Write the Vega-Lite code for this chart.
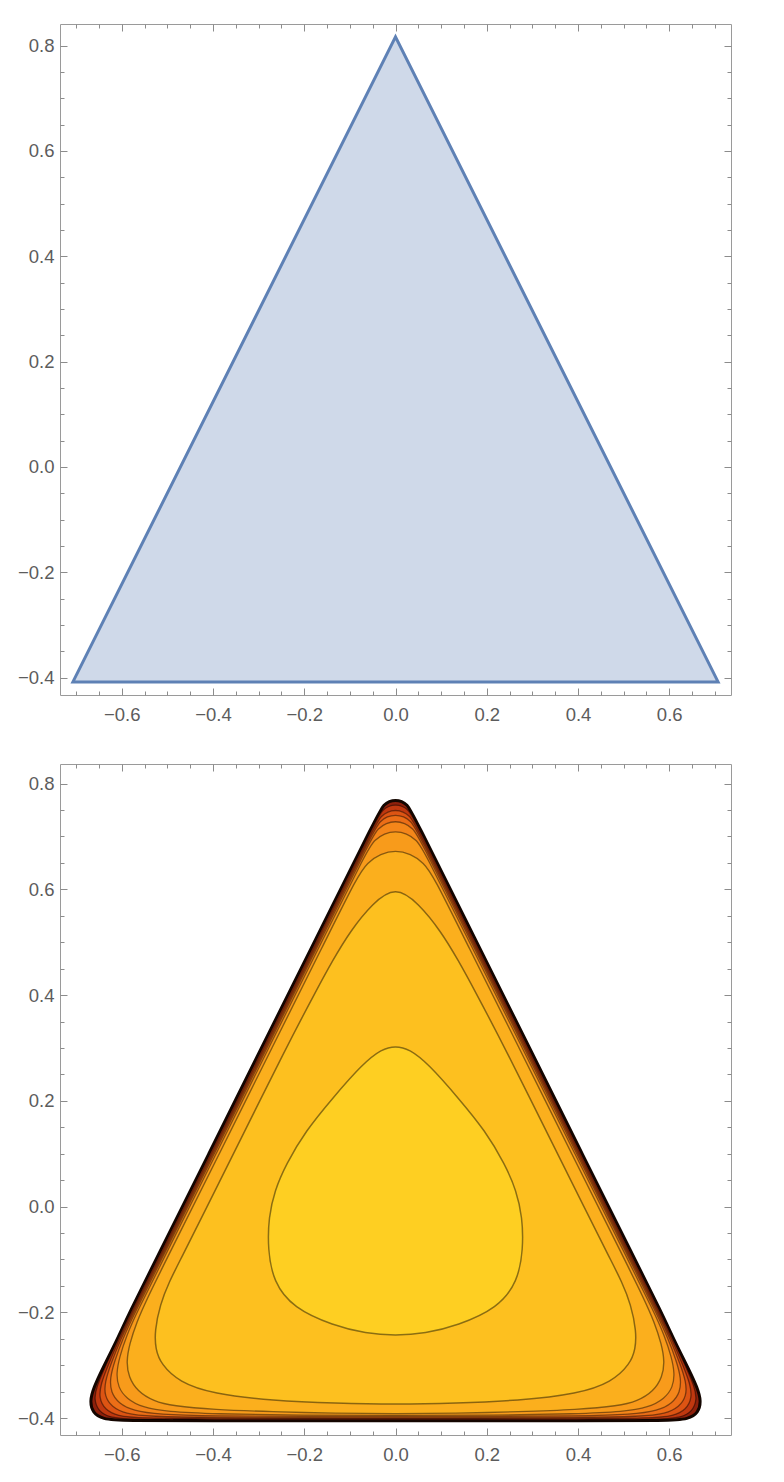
{
  "$schema": "https://vega.github.io/schema/vega-lite/v6.json",
  "background": "white",
  "padding": {"left": 16, "top": 23, "right": 5, "bottom": 5},
  "bounds": "flush",
  "spacing": 69,
  "config": {
    "view": {"stroke": "#9a9a9a", "strokeWidth": 1},
    "axis": {"grid": false, "domain": false, "title": null, "labelFont": "Liberation Sans", "labelFontSize": 18.5, "labelColor": "#5c5c5c", "tickColor": "#8c8c8c", "tickWidth": 1, "zindex": 1}
  },
  "datasets": {
    "tri": [
      {"x": -0.7071, "y": -0.4082},
      {"x": 0.7071, "y": -0.4082},
      {"x": 0, "y": 0.8165}
    ],
    "cont": [
      {"c":"E","x":0,"y":0.769},{"c":"E","x":-0.0137,"y":0.7666},{"c":"E","x":-0.0257,"y":0.7596},{"c":"E","x":-0.0346,"y":0.749},{"c":"E","x":-0.178,"y":0.5},{"c":"E","x":-0.294,"y":0.3},{"c":"E","x":-0.409,"y":0.1},{"c":"E","x":-0.525,"y":-0.1},{"c":"E","x":-0.583,"y":-0.2},{"c":"E","x":-0.612,"y":-0.255},{"c":"E","x":-0.642,"y":-0.306},{"c":"E","x":-0.662,"y":-0.343},{"c":"E","x":-0.67,"y":-0.368},{"c":"E","x":-0.664,"y":-0.39},{"c":"E","x":-0.642,"y":-0.402},{"c":"E","x":-0.6,"y":-0.405},{"c":"E","x":-0.4,"y":-0.405},{"c":"E","x":-0.2,"y":-0.405},{"c":"E","x":0,"y":-0.405},
      {"c":"E","x":0.2,"y":-0.405},{"c":"E","x":0.4,"y":-0.405},{"c":"E","x":0.6,"y":-0.405},{"c":"E","x":0.642,"y":-0.402},{"c":"E","x":0.664,"y":-0.39},{"c":"E","x":0.67,"y":-0.368},{"c":"E","x":0.662,"y":-0.343},{"c":"E","x":0.642,"y":-0.306},{"c":"E","x":0.612,"y":-0.255},{"c":"E","x":0.583,"y":-0.2},{"c":"E","x":0.525,"y":-0.1},{"c":"E","x":0.409,"y":0.1},{"c":"E","x":0.294,"y":0.3},{"c":"E","x":0.178,"y":0.5},{"c":"E","x":0.0346,"y":0.749},{"c":"E","x":0.0257,"y":0.7596},{"c":"E","x":0.0137,"y":0.7666},

      {"c":"C8","x":0,"y":0.76},{"c":"C8","x":-0.015,"y":0.7575},{"c":"C8","x":-0.0283,"y":0.7499},{"c":"C8","x":-0.0381,"y":0.7379},{"c":"C8","x":-0.175,"y":0.5},{"c":"C8","x":-0.291,"y":0.3},{"c":"C8","x":-0.406,"y":0.1},{"c":"C8","x":-0.522,"y":-0.1},{"c":"C8","x":-0.58,"y":-0.2},{"c":"C8","x":-0.61,"y":-0.255},{"c":"C8","x":-0.637,"y":-0.304},{"c":"C8","x":-0.655,"y":-0.34},{"c":"C8","x":-0.661,"y":-0.365},{"c":"C8","x":-0.651,"y":-0.387},{"c":"C8","x":-0.627,"y":-0.399},{"c":"C8","x":-0.58,"y":-0.4025},{"c":"C8","x":-0.4,"y":-0.4025},{"c":"C8","x":-0.2,"y":-0.4025},{"c":"C8","x":0,"y":-0.4025},
      {"c":"C8","x":0.2,"y":-0.4025},{"c":"C8","x":0.4,"y":-0.4025},{"c":"C8","x":0.58,"y":-0.4025},{"c":"C8","x":0.627,"y":-0.399},{"c":"C8","x":0.651,"y":-0.387},{"c":"C8","x":0.661,"y":-0.365},{"c":"C8","x":0.655,"y":-0.34},{"c":"C8","x":0.637,"y":-0.304},{"c":"C8","x":0.61,"y":-0.255},{"c":"C8","x":0.58,"y":-0.2},{"c":"C8","x":0.522,"y":-0.1},{"c":"C8","x":0.406,"y":0.1},{"c":"C8","x":0.291,"y":0.3},{"c":"C8","x":0.175,"y":0.5},{"c":"C8","x":0.0381,"y":0.7379},{"c":"C8","x":0.0283,"y":0.7499},{"c":"C8","x":0.015,"y":0.7575},

      {"c":"C7","x":0,"y":0.75},{"c":"C7","x":-0.0167,"y":0.7471},{"c":"C7","x":-0.0313,"y":0.7386},{"c":"C7","x":-0.0422,"y":0.7257},{"c":"C7","x":-0.172,"y":0.5},{"c":"C7","x":-0.288,"y":0.3},{"c":"C7","x":-0.403,"y":0.1},{"c":"C7","x":-0.519,"y":-0.1},{"c":"C7","x":-0.577,"y":-0.2},{"c":"C7","x":-0.607,"y":-0.254},{"c":"C7","x":-0.631,"y":-0.302},{"c":"C7","x":-0.646,"y":-0.336},{"c":"C7","x":-0.65,"y":-0.362},{"c":"C7","x":-0.637,"y":-0.384},{"c":"C7","x":-0.61,"y":-0.396},{"c":"C7","x":-0.56,"y":-0.4},{"c":"C7","x":-0.4,"y":-0.401},{"c":"C7","x":-0.2,"y":-0.401},{"c":"C7","x":0,"y":-0.401},
      {"c":"C7","x":0.2,"y":-0.401},{"c":"C7","x":0.4,"y":-0.401},{"c":"C7","x":0.56,"y":-0.4},{"c":"C7","x":0.61,"y":-0.396},{"c":"C7","x":0.637,"y":-0.384},{"c":"C7","x":0.65,"y":-0.362},{"c":"C7","x":0.646,"y":-0.336},{"c":"C7","x":0.631,"y":-0.302},{"c":"C7","x":0.607,"y":-0.254},{"c":"C7","x":0.577,"y":-0.2},{"c":"C7","x":0.519,"y":-0.1},{"c":"C7","x":0.403,"y":0.1},{"c":"C7","x":0.288,"y":0.3},{"c":"C7","x":0.172,"y":0.5},{"c":"C7","x":0.0422,"y":0.7257},{"c":"C7","x":0.0313,"y":0.7386},{"c":"C7","x":0.0167,"y":0.7471},

      {"c":"C6","x":0,"y":0.741},{"c":"C6","x":-0.018,"y":0.7378},{"c":"C6","x":-0.0338,"y":0.7287},{"c":"C6","x":-0.0455,"y":0.7148},{"c":"C6","x":-0.169,"y":0.5},{"c":"C6","x":-0.285,"y":0.3},{"c":"C6","x":-0.4,"y":0.1},{"c":"C6","x":-0.516,"y":-0.1},{"c":"C6","x":-0.574,"y":-0.2},{"c":"C6","x":-0.603,"y":-0.252},{"c":"C6","x":-0.624,"y":-0.298},{"c":"C6","x":-0.637,"y":-0.332},{"c":"C6","x":-0.638,"y":-0.358},{"c":"C6","x":-0.622,"y":-0.379},{"c":"C6","x":-0.592,"y":-0.392},{"c":"C6","x":-0.54,"y":-0.397},{"c":"C6","x":-0.4,"y":-0.399},{"c":"C6","x":-0.2,"y":-0.3995},{"c":"C6","x":0,"y":-0.3995},
      {"c":"C6","x":0.2,"y":-0.3995},{"c":"C6","x":0.4,"y":-0.399},{"c":"C6","x":0.54,"y":-0.397},{"c":"C6","x":0.592,"y":-0.392},{"c":"C6","x":0.622,"y":-0.379},{"c":"C6","x":0.638,"y":-0.358},{"c":"C6","x":0.637,"y":-0.332},{"c":"C6","x":0.624,"y":-0.298},{"c":"C6","x":0.603,"y":-0.252},{"c":"C6","x":0.574,"y":-0.2},{"c":"C6","x":0.516,"y":-0.1},{"c":"C6","x":0.4,"y":0.1},{"c":"C6","x":0.285,"y":0.3},{"c":"C6","x":0.169,"y":0.5},{"c":"C6","x":0.0455,"y":0.7148},{"c":"C6","x":0.0338,"y":0.7287},{"c":"C6","x":0.018,"y":0.7378},

      {"c":"C5","x":0,"y":0.729},{"c":"C5","x":-0.0203,"y":0.7254},{"c":"C5","x":-0.0381,"y":0.7151},{"c":"C5","x":-0.0514,"y":0.6994},{"c":"C5","x":-0.166,"y":0.5},{"c":"C5","x":-0.282,"y":0.3},{"c":"C5","x":-0.397,"y":0.1},{"c":"C5","x":-0.513,"y":-0.1},{"c":"C5","x":-0.571,"y":-0.2},{"c":"C5","x":-0.598,"y":-0.25},{"c":"C5","x":-0.616,"y":-0.293},{"c":"C5","x":-0.626,"y":-0.325},{"c":"C5","x":-0.624,"y":-0.351},{"c":"C5","x":-0.607,"y":-0.372},{"c":"C5","x":-0.575,"y":-0.386},{"c":"C5","x":-0.52,"y":-0.393},{"c":"C5","x":-0.4,"y":-0.396},{"c":"C5","x":-0.2,"y":-0.397},{"c":"C5","x":0,"y":-0.397},
      {"c":"C5","x":0.2,"y":-0.397},{"c":"C5","x":0.4,"y":-0.396},{"c":"C5","x":0.52,"y":-0.393},{"c":"C5","x":0.575,"y":-0.386},{"c":"C5","x":0.607,"y":-0.372},{"c":"C5","x":0.624,"y":-0.351},{"c":"C5","x":0.626,"y":-0.325},{"c":"C5","x":0.616,"y":-0.293},{"c":"C5","x":0.598,"y":-0.25},{"c":"C5","x":0.571,"y":-0.2},{"c":"C5","x":0.513,"y":-0.1},{"c":"C5","x":0.397,"y":0.1},{"c":"C5","x":0.282,"y":0.3},{"c":"C5","x":0.166,"y":0.5},{"c":"C5","x":0.0514,"y":0.6994},{"c":"C5","x":0.0381,"y":0.7151},{"c":"C5","x":0.0203,"y":0.7254},

      {"c":"C4","x":0,"y":0.71},{"c":"C4","x":-0.0244,"y":0.7057},{"c":"C4","x":-0.0459,"y":0.6933},{"c":"C4","x":-0.0618,"y":0.6743},{"c":"C4","x":-0.162,"y":0.5},{"c":"C4","x":-0.278,"y":0.3},{"c":"C4","x":-0.393,"y":0.1},{"c":"C4","x":-0.509,"y":-0.1},{"c":"C4","x":-0.567,"y":-0.2},{"c":"C4","x":-0.59,"y":-0.245},{"c":"C4","x":-0.605,"y":-0.285},{"c":"C4","x":-0.612,"y":-0.315},{"c":"C4","x":-0.608,"y":-0.342},{"c":"C4","x":-0.59,"y":-0.363},{"c":"C4","x":-0.555,"y":-0.38},{"c":"C4","x":-0.5,"y":-0.388},{"c":"C4","x":-0.4,"y":-0.392},{"c":"C4","x":-0.2,"y":-0.395},{"c":"C4","x":0,"y":-0.395},
      {"c":"C4","x":0.2,"y":-0.395},{"c":"C4","x":0.4,"y":-0.392},{"c":"C4","x":0.5,"y":-0.388},{"c":"C4","x":0.555,"y":-0.38},{"c":"C4","x":0.59,"y":-0.363},{"c":"C4","x":0.608,"y":-0.342},{"c":"C4","x":0.612,"y":-0.315},{"c":"C4","x":0.605,"y":-0.285},{"c":"C4","x":0.59,"y":-0.245},{"c":"C4","x":0.567,"y":-0.2},{"c":"C4","x":0.509,"y":-0.1},{"c":"C4","x":0.393,"y":0.1},{"c":"C4","x":0.278,"y":0.3},{"c":"C4","x":0.162,"y":0.5},{"c":"C4","x":0.0618,"y":0.6743},{"c":"C4","x":0.0459,"y":0.6933},{"c":"C4","x":0.0244,"y":0.7057},

      {"c":"C3","x":0,"y":0.674},{"c":"C3","x":-0.0329,"y":0.6672},{"c":"C3","x":-0.0618,"y":0.6505},{"c":"C3","x":-0.0833,"y":0.6249},{"c":"C3","x":-0.155,"y":0.5},{"c":"C3","x":-0.271,"y":0.3},{"c":"C3","x":-0.386,"y":0.1},{"c":"C3","x":-0.502,"y":-0.1},{"c":"C3","x":-0.545,"y":-0.175},{"c":"C3","x":-0.568,"y":-0.22},{"c":"C3","x":-0.583,"y":-0.26},{"c":"C3","x":-0.59,"y":-0.293},{"c":"C3","x":-0.585,"y":-0.322},{"c":"C3","x":-0.566,"y":-0.349},{"c":"C3","x":-0.53,"y":-0.368},{"c":"C3","x":-0.488,"y":-0.377},{"c":"C3","x":-0.4,"y":-0.384},{"c":"C3","x":-0.27,"y":-0.388},{"c":"C3","x":-0.13,"y":-0.391},{"c":"C3","x":0,"y":-0.392},
      {"c":"C3","x":0.13,"y":-0.391},{"c":"C3","x":0.27,"y":-0.388},{"c":"C3","x":0.4,"y":-0.384},{"c":"C3","x":0.488,"y":-0.377},{"c":"C3","x":0.53,"y":-0.368},{"c":"C3","x":0.566,"y":-0.349},{"c":"C3","x":0.585,"y":-0.322},{"c":"C3","x":0.59,"y":-0.293},{"c":"C3","x":0.583,"y":-0.26},{"c":"C3","x":0.568,"y":-0.22},{"c":"C3","x":0.545,"y":-0.175},{"c":"C3","x":0.502,"y":-0.1},{"c":"C3","x":0.386,"y":0.1},{"c":"C3","x":0.271,"y":0.3},{"c":"C3","x":0.155,"y":0.5},{"c":"C3","x":0.0833,"y":0.6249},{"c":"C3","x":0.0618,"y":0.6505},{"c":"C3","x":0.0329,"y":0.6672},

      {"c":"C2","x":0,"y":0.606},{"c":"C2","x":-0.05,"y":0.574},{"c":"C2","x":-0.1,"y":0.52},{"c":"C2","x":-0.138,"y":0.465},{"c":"C2","x":-0.171,"y":0.413},{"c":"C2","x":-0.24,"y":0.3},{"c":"C2","x":-0.355,"y":0.1},{"c":"C2","x":-0.413,"y":0.0},{"c":"C2","x":-0.471,"y":-0.1},{"c":"C2","x":-0.496,"y":-0.142},{"c":"C2","x":-0.516,"y":-0.185},{"c":"C2","x":-0.528,"y":-0.236},{"c":"C2","x":-0.526,"y":-0.27},{"c":"C2","x":-0.514,"y":-0.298},{"c":"C2","x":-0.474,"y":-0.332},{"c":"C2","x":-0.401,"y":-0.354},{"c":"C2","x":-0.269,"y":-0.367},{"c":"C2","x":-0.13,"y":-0.372},{"c":"C2","x":0,"y":-0.374},
      {"c":"C2","x":0.13,"y":-0.372},{"c":"C2","x":0.269,"y":-0.367},{"c":"C2","x":0.401,"y":-0.354},{"c":"C2","x":0.474,"y":-0.332},{"c":"C2","x":0.514,"y":-0.298},{"c":"C2","x":0.526,"y":-0.27},{"c":"C2","x":0.528,"y":-0.236},{"c":"C2","x":0.516,"y":-0.185},{"c":"C2","x":0.496,"y":-0.142},{"c":"C2","x":0.471,"y":-0.1},{"c":"C2","x":0.413,"y":0.0},{"c":"C2","x":0.355,"y":0.1},{"c":"C2","x":0.24,"y":0.3},{"c":"C2","x":0.171,"y":0.413},{"c":"C2","x":0.138,"y":0.465},{"c":"C2","x":0.1,"y":0.52},{"c":"C2","x":0.05,"y":0.574},

      {"c":"C1","x":0,"y":0.304},{"c":"C1","x":-0.03,"y":0.298},{"c":"C1","x":-0.072,"y":0.27},{"c":"C1","x":-0.138,"y":0.205},{"c":"C1","x":-0.197,"y":0.143},{"c":"C1","x":-0.24,"y":0.08},{"c":"C1","x":-0.265,"y":0.03},{"c":"C1","x":-0.278,"y":-0.02},{"c":"C1","x":-0.28,"y":-0.08},{"c":"C1","x":-0.268,"y":-0.142},{"c":"C1","x":-0.224,"y":-0.192},{"c":"C1","x":-0.136,"y":-0.225},{"c":"C1","x":-0.065,"y":-0.24},{"c":"C1","x":0,"y":-0.244},
      {"c":"C1","x":0.065,"y":-0.24},{"c":"C1","x":0.136,"y":-0.225},{"c":"C1","x":0.224,"y":-0.192},{"c":"C1","x":0.268,"y":-0.142},{"c":"C1","x":0.28,"y":-0.08},{"c":"C1","x":0.278,"y":-0.02},{"c":"C1","x":0.265,"y":0.03},{"c":"C1","x":0.24,"y":0.08},{"c":"C1","x":0.197,"y":0.143},{"c":"C1","x":0.138,"y":0.205},{"c":"C1","x":0.072,"y":0.27},{"c":"C1","x":0.03,"y":0.298}
    ]
  },
  "vconcat": [
    {
      "width": 671,
      "height": 671,
      "data": {"name": "tri"},
      "resolve": {"axis": {"x": "independent", "y": "independent"}},
      "layer": [
        {
          "mark": {"type": "line", "interpolate": "linear-closed", "fill": "#cfd9e9", "stroke": "#5e81b5", "strokeWidth": 3, "strokeJoin": "miter"},
          "encoding": {
            "x": {"field": "x", "type": "quantitative", "scale": {"domain": [-0.7354, 0.7354], "nice": false, "zero": false}, "axis": {"orient": "bottom", "ticks": false, "values": [-0.6, -0.4, -0.2, 0, 0.2, 0.4, 0.6], "format": ".1f", "labelPadding": 10}},
            "y": {"field": "y", "type": "quantitative", "scale": {"domain": [-0.433, 0.841], "nice": false, "zero": false}, "axis": {"orient": "left", "ticks": false, "values": [-0.4, -0.2, 0, 0.2, 0.4, 0.6, 0.8], "format": ".1f", "labelPadding": 6}},
            "order": {"value": null}
          }
        },
        {
          "mark": {"type": "point", "opacity": 0},
          "encoding": {
            "x": {"field": "x", "type": "quantitative", "scale": {"domain": [-0.7354, 0.7354], "nice": false, "zero": false}, "axis": {"orient": "bottom", "labels": false, "tickSize": -7, "values": [-0.6, -0.4, -0.2, 0, 0.2, 0.4, 0.6]}},
            "y": {"field": "y", "type": "quantitative", "scale": {"domain": [-0.433, 0.841], "nice": false, "zero": false}, "axis": {"orient": "left", "labels": false, "tickSize": -7, "values": [-0.4, -0.2, 0, 0.2, 0.4, 0.6, 0.8]}}
          }
        },
        {
          "mark": {"type": "point", "opacity": 0},
          "encoding": {
            "x": {"field": "x", "type": "quantitative", "scale": {"domain": [-0.7354, 0.7354], "nice": false, "zero": false}, "axis": {"orient": "bottom", "labels": false, "tickSize": -4, "values": [-0.7, -0.65, -0.55, -0.5, -0.45, -0.35, -0.3, -0.25, -0.15, -0.1, -0.05, 0.05, 0.1, 0.15, 0.25, 0.3, 0.35, 0.45, 0.5, 0.55, 0.65, 0.7]}},
            "y": {"field": "y", "type": "quantitative", "scale": {"domain": [-0.433, 0.841], "nice": false, "zero": false}, "axis": {"orient": "left", "labels": false, "tickSize": -4, "values": [-0.35, -0.3, -0.25, -0.15, -0.1, -0.05, 0.05, 0.1, 0.15, 0.25, 0.3, 0.35, 0.45, 0.5, 0.55, 0.65, 0.7, 0.75]}}
          }
        },
        {
          "mark": {"type": "point", "opacity": 0},
          "encoding": {
            "x": {"field": "x", "type": "quantitative", "scale": {"domain": [-0.7354, 0.7354], "nice": false, "zero": false}, "axis": {"orient": "top", "labels": false, "tickSize": -7, "values": [-0.6, -0.4, -0.2, 0, 0.2, 0.4, 0.6]}},
            "y": {"field": "y", "type": "quantitative", "scale": {"domain": [-0.433, 0.841], "nice": false, "zero": false}, "axis": {"orient": "right", "labels": false, "tickSize": -7, "values": [-0.4, -0.2, 0, 0.2, 0.4, 0.6, 0.8]}}
          }
        },
        {
          "mark": {"type": "point", "opacity": 0},
          "encoding": {
            "x": {"field": "x", "type": "quantitative", "scale": {"domain": [-0.7354, 0.7354], "nice": false, "zero": false}, "axis": {"orient": "top", "labels": false, "tickSize": -4, "values": [-0.7, -0.65, -0.55, -0.5, -0.45, -0.35, -0.3, -0.25, -0.15, -0.1, -0.05, 0.05, 0.1, 0.15, 0.25, 0.3, 0.35, 0.45, 0.5, 0.55, 0.65, 0.7]}},
            "y": {"field": "y", "type": "quantitative", "scale": {"domain": [-0.433, 0.841], "nice": false, "zero": false}, "axis": {"orient": "right", "labels": false, "tickSize": -4, "values": [-0.35, -0.3, -0.25, -0.15, -0.1, -0.05, 0.05, 0.1, 0.15, 0.25, 0.3, 0.35, 0.45, 0.5, 0.55, 0.65, 0.7, 0.75]}}
          }
        }
      ]
    },
    {
      "width": 671,
      "height": 671,
      "data": {"name": "cont"},
      "resolve": {"axis": {"x": "independent", "y": "independent"}},
      "layer": [
        {
          "transform": [{"filter": "datum.c == 'E'"}],
          "mark": {"type": "line", "interpolate": "basis-closed", "fill": "#8e200b", "stroke": "#140600", "strokeWidth": 3},
          "encoding": {
            "x": {"field": "x", "type": "quantitative", "scale": {"domain": [-0.7354, 0.7354], "nice": false, "zero": false}, "axis": {"orient": "bottom", "ticks": false, "values": [-0.6, -0.4, -0.2, 0, 0.2, 0.4, 0.6], "format": ".1f", "labelPadding": 10}},
            "y": {"field": "y", "type": "quantitative", "scale": {"domain": [-0.432, 0.837], "nice": false, "zero": false}, "axis": {"orient": "left", "ticks": false, "values": [-0.4, -0.2, 0, 0.2, 0.4, 0.6, 0.8], "format": ".1f", "labelPadding": 6}},
            "order": {"value": null}
          }
        },
        {
          "transform": [{"filter": "datum.c == 'C8'"}],
          "mark": {"type": "line", "interpolate": "basis-closed", "fill": "#c0380f", "stroke": "#000000", "strokeOpacity": 0.45, "strokeWidth": 1.3},
          "encoding": {
            "x": {"field": "x", "type": "quantitative", "scale": {"domain": [-0.7354, 0.7354], "nice": false, "zero": false}, "axis": {"orient": "bottom", "labels": false, "tickSize": -7, "values": [-0.6, -0.4, -0.2, 0, 0.2, 0.4, 0.6]}},
            "y": {"field": "y", "type": "quantitative", "scale": {"domain": [-0.432, 0.837], "nice": false, "zero": false}, "axis": {"orient": "left", "labels": false, "tickSize": -7, "values": [-0.4, -0.2, 0, 0.2, 0.4, 0.6, 0.8]}},
            "order": {"value": null}
          }
        },
        {
          "transform": [{"filter": "datum.c == 'C7'"}],
          "mark": {"type": "line", "interpolate": "basis-closed", "fill": "#dd5413", "stroke": "#000000", "strokeOpacity": 0.45, "strokeWidth": 1.3},
          "encoding": {
            "x": {"field": "x", "type": "quantitative", "scale": {"domain": [-0.7354, 0.7354], "nice": false, "zero": false}, "axis": {"orient": "bottom", "labels": false, "tickSize": -4, "values": [-0.7, -0.65, -0.55, -0.5, -0.45, -0.35, -0.3, -0.25, -0.15, -0.1, -0.05, 0.05, 0.1, 0.15, 0.25, 0.3, 0.35, 0.45, 0.5, 0.55, 0.65, 0.7]}},
            "y": {"field": "y", "type": "quantitative", "scale": {"domain": [-0.432, 0.837], "nice": false, "zero": false}, "axis": {"orient": "left", "labels": false, "tickSize": -4, "values": [-0.35, -0.3, -0.25, -0.15, -0.1, -0.05, 0.05, 0.1, 0.15, 0.25, 0.3, 0.35, 0.45, 0.5, 0.55, 0.65, 0.7, 0.75]}},
            "order": {"value": null}
          }
        },
        {
          "transform": [{"filter": "datum.c == 'C6'"}],
          "mark": {"type": "line", "interpolate": "basis-closed", "fill": "#ec6e17", "stroke": "#000000", "strokeOpacity": 0.45, "strokeWidth": 1.3},
          "encoding": {
            "x": {"field": "x", "type": "quantitative", "scale": {"domain": [-0.7354, 0.7354], "nice": false, "zero": false}, "axis": {"orient": "top", "labels": false, "tickSize": -7, "values": [-0.6, -0.4, -0.2, 0, 0.2, 0.4, 0.6]}},
            "y": {"field": "y", "type": "quantitative", "scale": {"domain": [-0.432, 0.837], "nice": false, "zero": false}, "axis": {"orient": "right", "labels": false, "tickSize": -7, "values": [-0.4, -0.2, 0, 0.2, 0.4, 0.6, 0.8]}},
            "order": {"value": null}
          }
        },
        {
          "transform": [{"filter": "datum.c == 'C5'"}],
          "mark": {"type": "line", "interpolate": "basis-closed", "fill": "#f4861a", "stroke": "#000000", "strokeOpacity": 0.45, "strokeWidth": 1.3},
          "encoding": {
            "x": {"field": "x", "type": "quantitative", "scale": {"domain": [-0.7354, 0.7354], "nice": false, "zero": false}, "axis": {"orient": "top", "labels": false, "tickSize": -4, "values": [-0.7, -0.65, -0.55, -0.5, -0.45, -0.35, -0.3, -0.25, -0.15, -0.1, -0.05, 0.05, 0.1, 0.15, 0.25, 0.3, 0.35, 0.45, 0.5, 0.55, 0.65, 0.7]}},
            "y": {"field": "y", "type": "quantitative", "scale": {"domain": [-0.432, 0.837], "nice": false, "zero": false}, "axis": {"orient": "right", "labels": false, "tickSize": -4, "values": [-0.35, -0.3, -0.25, -0.15, -0.1, -0.05, 0.05, 0.1, 0.15, 0.25, 0.3, 0.35, 0.45, 0.5, 0.55, 0.65, 0.7, 0.75]}},
            "order": {"value": null}
          }
        },
        {
          "transform": [{"filter": "datum.c == 'C4'"}],
          "mark": {"type": "line", "interpolate": "basis-closed", "fill": "#f89b1b", "stroke": "#000000", "strokeOpacity": 0.45, "strokeWidth": 1.3},
          "encoding": {
            "x": {"field": "x", "type": "quantitative", "scale": {"domain": [-0.7354, 0.7354], "nice": false, "zero": false}, "axis": null},
            "y": {"field": "y", "type": "quantitative", "scale": {"domain": [-0.432, 0.837], "nice": false, "zero": false}, "axis": null},
            "order": {"value": null}
          }
        },
        {
          "transform": [{"filter": "datum.c == 'C3'"}],
          "mark": {"type": "line", "interpolate": "basis-closed", "fill": "#fbaf1d", "stroke": "#000000", "strokeOpacity": 0.45, "strokeWidth": 1.4},
          "encoding": {
            "x": {"field": "x", "type": "quantitative", "scale": {"domain": [-0.7354, 0.7354], "nice": false, "zero": false}, "axis": null},
            "y": {"field": "y", "type": "quantitative", "scale": {"domain": [-0.432, 0.837], "nice": false, "zero": false}, "axis": null},
            "order": {"value": null}
          }
        },
        {
          "transform": [{"filter": "datum.c == 'C2'"}],
          "mark": {"type": "line", "interpolate": "basis-closed", "fill": "#fdc01f", "stroke": "#000000", "strokeOpacity": 0.45, "strokeWidth": 1.5},
          "encoding": {
            "x": {"field": "x", "type": "quantitative", "scale": {"domain": [-0.7354, 0.7354], "nice": false, "zero": false}, "axis": null},
            "y": {"field": "y", "type": "quantitative", "scale": {"domain": [-0.432, 0.837], "nice": false, "zero": false}, "axis": null},
            "order": {"value": null}
          }
        },
        {
          "transform": [{"filter": "datum.c == 'C1'"}],
          "mark": {"type": "line", "interpolate": "basis-closed", "fill": "#fecf22", "stroke": "#000000", "strokeOpacity": 0.45, "strokeWidth": 1.5},
          "encoding": {
            "x": {"field": "x", "type": "quantitative", "scale": {"domain": [-0.7354, 0.7354], "nice": false, "zero": false}, "axis": null},
            "y": {"field": "y", "type": "quantitative", "scale": {"domain": [-0.432, 0.837], "nice": false, "zero": false}, "axis": null},
            "order": {"value": null}
          }
        }
      ]
    }
  ]
}
